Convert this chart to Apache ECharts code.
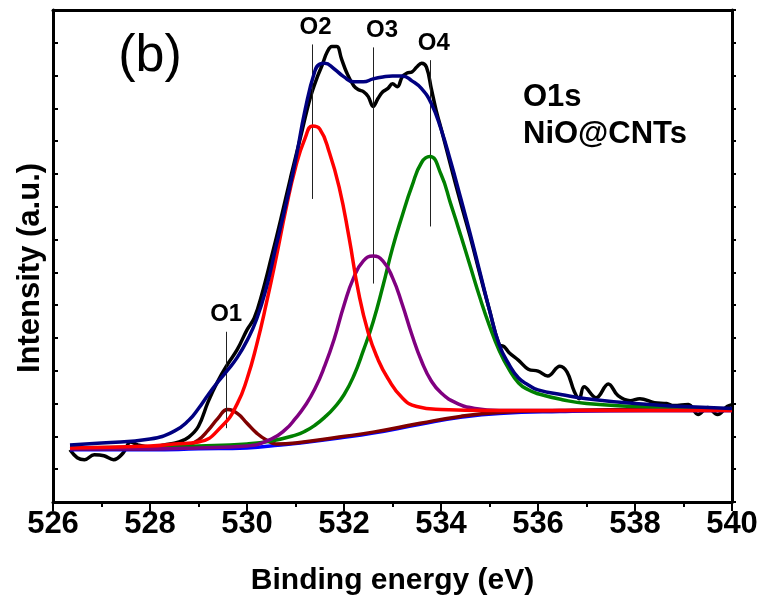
<!DOCTYPE html>
<html>
<head>
<meta charset="utf-8">
<script src="https://cdn.jsdelivr.net/npm/echarts@6/dist/echarts.min.js"></script>
<style>
html,body{margin:0;padding:0;background:#fff;}
#chart{width:765px;height:601px;}
</style>
</head>
<body>
<div id="chart"></div>
<script>
// ---- Data (binding energy in eV, intensity in arbitrary units) ----
const xTicks = [526, 528, 530, 532, 534, 536, 538, 540];

const rawE = [526.35,526.5,526.65,526.85,527.05,527.25,527.45,527.6,527.75,528.0,528.3,528.6,528.8,529.0,529.2,529.4,529.6,529.8,530.0,530.15,530.3,530.5,530.7,530.9,531.1,531.3,531.45,531.55,531.65,531.75,531.85,531.95,532.05,532.2,532.3,532.4,532.5,532.6,532.7,532.8,532.9,533.0,533.1,533.2,533.3,533.4,533.5,533.6,533.7,533.8,533.9,534.0,534.2,534.4,534.6,534.8,535.0,535.2,535.3,535.4,535.6,535.8,536.0,536.2,536.45,536.6,536.75,536.85,536.95,537.2,537.45,537.65,537.9,538.1,538.4,538.65,538.8,539.1,539.3,539.5,539.7,539.9,540.0];
const rawI = [1.59,1.35,1.29,1.44,1.41,1.29,1.50,1.83,1.74,1.68,1.74,1.83,1.98,2.31,3.06,3.69,4.20,4.65,5.25,5.61,6.30,7.44,8.64,9.90,11.10,12.30,12.96,13.32,13.71,13.89,13.89,13.50,13.11,12.69,12.57,12.51,12.36,12.06,12.30,12.51,12.60,12.75,12.66,12.96,13.08,13.11,13.26,13.38,13.26,12.60,11.94,11.40,10.26,9.15,8.10,6.96,5.85,4.80,4.74,4.56,4.32,4.05,3.99,3.84,4.14,3.96,3.36,3.15,3.51,3.18,3.60,3.24,3.09,3.15,3.03,3.00,2.94,2.97,2.67,2.88,2.67,2.91,2.97];

const bgE = [526.35,528,529,530,530.7,531.1,531.9,532.6,533.57,534.4,535.2,536.45,538.3,540];
const bgI = [1.59,1.59,1.62,1.65,1.74,1.80,1.95,2.10,2.37,2.58,2.70,2.76,2.79,2.79];

const o1E = [526.35,528,528.5,528.8,529.0,529.2,529.4,529.6,529.8,530.0,530.2,530.4,530.6,531.0,531.9,532.6,533.57,534.4,535.2,536.45,538.3,540];
const o1I = [1.62,1.62,1.65,1.74,1.89,2.19,2.55,2.82,2.70,2.40,2.10,1.89,1.77,1.80,1.98,2.13,2.40,2.61,2.73,2.79,2.82,2.82];

const o2E = [526.35,528.0,528.5,529.0,529.5,529.8,530.0,530.2,530.4,530.6,530.8,531.0,531.2,531.35,531.5,531.7,531.9,532.1,532.3,532.5,532.7,532.9,533.2,533.5,534.0,535.0,540];
const o2I = [1.65,1.71,1.77,1.83,2.34,3.00,3.75,4.80,6.06,7.44,8.91,10.20,11.10,11.46,11.37,10.65,9.60,8.10,6.39,5.16,4.35,3.78,3.18,2.91,2.82,2.79,2.79];

const o3E = [526.35,528,529,530,530.5,530.8,531.0,531.2,531.4,531.6,531.8,532.0,532.2,532.4,532.6,532.8,533.0,533.2,533.4,533.6,533.8,534.0,534.3,534.7,535.2,536,540];
const o3I = [1.62,1.62,1.65,1.71,1.92,2.22,2.55,2.94,3.45,4.14,4.98,6.00,6.84,7.35,7.50,7.35,6.84,6.03,5.10,4.29,3.69,3.33,3.03,2.85,2.79,2.79,2.79];

const o4E = [526.35,528,529,530,530.5,531.0,531.2,531.4,531.6,531.8,532.0,532.2,532.4,532.6,532.8,533.0,533.2,533.4,533.6,533.77,534.0,534.2,534.4,534.6,534.8,535.0,535.2,535.4,535.6,535.8,536.0,536.5,537,538,539,540];
const o4I = [1.65,1.68,1.71,1.77,1.86,2.04,2.16,2.34,2.58,2.88,3.27,3.84,4.62,5.49,6.57,7.74,8.73,9.63,10.35,10.53,9.99,9.09,8.16,7.20,6.24,5.37,4.62,4.05,3.63,3.42,3.30,3.12,3.00,2.91,2.85,2.82];

const envE = [526.35,527,528,528.5,528.8,529.0,529.2,529.4,529.6,529.8,530.0,530.2,530.4,530.6,530.8,531.0,531.2,531.4,531.5,531.6,531.8,532.0,532.2,532.4,532.6,532.8,533.0,533.2,533.4,533.6,533.8,534.0,534.2,534.4,534.6,534.8,535.0,535.2,535.4,535.6,535.8,536.0,536.5,537,538,539,540];
const envI = [1.74,1.80,1.92,2.16,2.49,2.85,3.27,3.66,4.02,4.41,4.92,5.58,6.54,7.80,9.06,10.41,11.97,13.14,13.35,13.38,13.20,12.96,12.81,12.81,12.90,12.96,12.99,12.99,12.84,12.60,12.15,11.37,10.38,9.30,8.19,7.02,5.85,4.80,4.20,3.78,3.57,3.42,3.27,3.15,3.00,2.91,2.85];

// peak markers
const peakNames = ['O1', 'O2', 'O3', 'O4'];
const peakE = [529.57, 531.35, 532.60, 533.77];
const peakLineLow = [2.25, 9.24, 6.66, 8.40];
const peakLineHigh = [5.19, 13.95, 13.86, 13.47];

// ---- styling (kept separate from data) ----
const peakLabelOffset = [[0,0],[3,0],[9,0],[4,0]];
const FONT = '"Liberation Sans", Arial, Helvetica, sans-serif';
const LW = 3.5;

function zip(a, b) { return a.map((v, i) => [v, b[i]]); }

function lineSeries(name, e, v, color, z, smooth) {
  return {
    name: name, type: 'line', data: zip(e, v), showSymbol: false, symbol: 'none',
    smooth: smooth, z: z, silent: true,
    lineStyle: { color: color, width: LW },
    xAxisIndex: 0, yAxisIndex: 0
  };
}

const chart = echarts.init(document.getElementById('chart'), null, { renderer: 'canvas' });

const option = {
  animation: false,
  backgroundColor: '#ffffff',
  grid: { left: 53, right: 33, top: 10, bottom: 91, containLabel: false },
  xAxis: [
    {
      type: 'value', min: 526, max: 540, interval: 2, position: 'bottom',
      name: 'Binding energy (eV)', nameLocation: 'middle', nameGap: 64,
      nameTextStyle: { fontFamily: FONT, fontSize: 30, fontWeight: 'bold', color: '#000' },
      axisLine: { show: true, onZero: false, lineStyle: { color: '#000', width: 3 } },
      axisTick: { show: true, inside: false, length: 9, lineStyle: { color: '#000', width: 2 } },
      minorTick: { show: true, splitNumber: 2, length: 5, lineStyle: { color: '#000', width: 2 } },
      axisLabel: { show: true, margin: 7, fontFamily: FONT, fontSize: 31, fontWeight: 'bold', color: '#000',
        formatter: function (v) { return xTicks.indexOf(v) >= 0 ? String(v) : ''; } },
      splitLine: { show: false }
    },
    {
      type: 'value', min: 526, max: 540, interval: 2, position: 'top',
      axisLine: { show: true, onZero: false, lineStyle: { color: '#000', width: 3 } },
      axisTick: { show: false }, axisLabel: { show: false }, splitLine: { show: false }
    }
  ],
  yAxis: [
    {
      type: 'value', min: 0, max: 15, interval: 1, position: 'left',
      axisLine: { show: true, onZero: false, lineStyle: { color: '#000', width: 3 } },
      axisTick: { show: true, inside: true, length: 5, lineStyle: { color: '#000', width: 2 } },
      axisLabel: { show: false }, splitLine: { show: false }
    },
    {
      type: 'value', min: 0, max: 15, interval: 1, position: 'right',
      axisLine: { show: true, onZero: false, lineStyle: { color: '#000', width: 3 } },
      axisTick: { show: true, inside: false, length: 4, lineStyle: { color: '#000', width: 2 } },
      axisLabel: { show: false }, splitLine: { show: false }
    }
  ],
  series: [
    lineSeries('Raw', rawE, rawI, '#000000', 2, 0.4),
    lineSeries('Background', bgE, bgI, '#0000ff', 3, 0.5),
    lineSeries('O1', o1E, o1I, '#800000', 4, 0.5),
    lineSeries('O4', o4E, o4I, '#008000', 5, 0.5),
    lineSeries('O3', o3E, o3I, '#800080', 6, 0.5),
    lineSeries('O2', o2E, o2I, '#ff0000', 7, 0.5),
    lineSeries('Envelope', envE, envI, '#000080', 8, 0.5),
    {
      name: 'markers', type: 'line', data: [], silent: true, z: 9,
      markLine: {
        silent: true, symbol: 'none', animation: false,
        lineStyle: { color: '#222', width: 1, type: 'solid' },
        label: { show: true, position: 'end', distance: 5, fontFamily: FONT, fontSize: 24, fontWeight: 'bold', color: '#000' },
        emphasis: { disabled: true },
        data: peakNames.map(function (n, i) {
          return [
            { coord: [peakE[i], peakLineLow[i]], name: n,
              label: { formatter: n, offset: peakLabelOffset[i] } },
            { coord: [peakE[i], peakLineHigh[i]] }
          ];
        })
      }
    }
  ],
  graphic: [
    { type: 'text', x: 30, y: 268, rotation: Math.PI / 2, silent: true,
      style: { text: 'Intensity (a.u.)', fontFamily: FONT, fontSize: 31, fontWeight: 'bold', fill: '#000', align: 'center', verticalAlign: 'middle' } },
    { type: 'text', x: 150, y: 57, silent: true,
      style: { text: '(b)', fontFamily: FONT, fontSize: 52, fontWeight: 'normal', fill: '#000', align: 'center', verticalAlign: 'middle' } },
    { type: 'text', x: 523, y: 97, silent: true,
      style: { text: 'O1s', fontFamily: FONT, fontSize: 31, fontWeight: 'bold', fill: '#000', align: 'left', verticalAlign: 'middle' } },
    { type: 'text', x: 523, y: 134, silent: true,
      style: { text: 'NiO@CNTs', fontFamily: FONT, fontSize: 31, fontWeight: 'bold', fill: '#000', align: 'left', verticalAlign: 'middle' } }
  ]
};
chart.setOption(option);
</script>
</body>
</html>
